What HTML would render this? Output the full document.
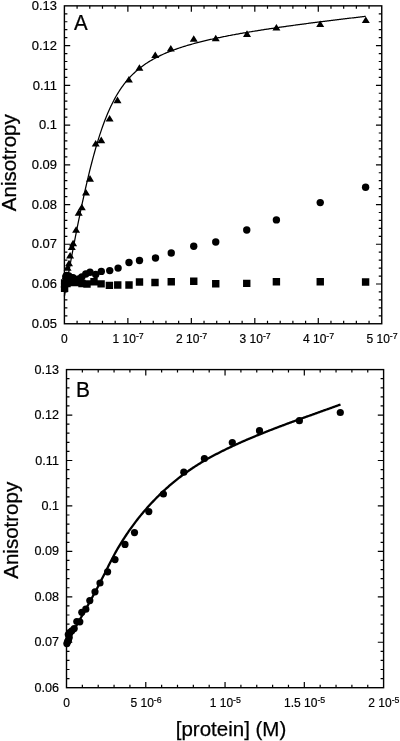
<!DOCTYPE html>
<html><head><meta charset="utf-8"><title>Anisotropy binding curves</title>
<style>
html,body{margin:0;padding:0;background:#fff;}
body{width:400px;height:741px;overflow:hidden;}
svg{display:block;}
</style></head>
<body>
<svg width="400" height="741" viewBox="0 0 400 741">
<rect width="400" height="741" fill="#fff"/>
<rect x="64.40" y="5.85" width="317.35" height="317.90" fill="none" stroke="#000" stroke-width="1.4"/>
<path d="M64.40 315.80h3.0M381.75 315.80h-3.0M64.40 307.85h3.0M381.75 307.85h-3.0M64.40 299.91h3.0M381.75 299.91h-3.0M64.40 291.96h3.0M381.75 291.96h-3.0M64.40 284.01h5.8M381.75 284.01h-5.8M64.40 276.06h3.0M381.75 276.06h-3.0M64.40 268.12h3.0M381.75 268.12h-3.0M64.40 260.17h3.0M381.75 260.17h-3.0M64.40 252.22h3.0M381.75 252.22h-3.0M64.40 244.27h5.8M381.75 244.27h-5.8M64.40 236.33h3.0M381.75 236.33h-3.0M64.40 228.38h3.0M381.75 228.38h-3.0M64.40 220.43h3.0M381.75 220.43h-3.0M64.40 212.49h3.0M381.75 212.49h-3.0M64.40 204.54h5.8M381.75 204.54h-5.8M64.40 196.59h3.0M381.75 196.59h-3.0M64.40 188.64h3.0M381.75 188.64h-3.0M64.40 180.69h3.0M381.75 180.69h-3.0M64.40 172.75h3.0M381.75 172.75h-3.0M64.40 164.80h5.8M381.75 164.80h-5.8M64.40 156.85h3.0M381.75 156.85h-3.0M64.40 148.91h3.0M381.75 148.91h-3.0M64.40 140.96h3.0M381.75 140.96h-3.0M64.40 133.01h3.0M381.75 133.01h-3.0M64.40 125.06h5.8M381.75 125.06h-5.8M64.40 117.12h3.0M381.75 117.12h-3.0M64.40 109.17h3.0M381.75 109.17h-3.0M64.40 101.22h3.0M381.75 101.22h-3.0M64.40 93.27h3.0M381.75 93.27h-3.0M64.40 85.33h5.8M381.75 85.33h-5.8M64.40 77.38h3.0M381.75 77.38h-3.0M64.40 69.43h3.0M381.75 69.43h-3.0M64.40 61.48h3.0M381.75 61.48h-3.0M64.40 53.54h3.0M381.75 53.54h-3.0M64.40 45.59h5.8M381.75 45.59h-5.8M64.40 37.64h3.0M381.75 37.64h-3.0M64.40 29.69h3.0M381.75 29.69h-3.0M64.40 21.75h3.0M381.75 21.75h-3.0M64.40 13.80h3.0M381.75 13.80h-3.0M77.09 5.85v3.0M77.09 323.75v-3.0M89.79 5.85v3.0M89.79 323.75v-3.0M102.48 5.85v3.0M102.48 323.75v-3.0M115.18 5.85v3.0M115.18 323.75v-3.0M127.87 5.85v5.8M127.87 323.75v-5.8M140.56 5.85v3.0M140.56 323.75v-3.0M153.26 5.85v3.0M153.26 323.75v-3.0M165.95 5.85v3.0M165.95 323.75v-3.0M178.65 5.85v3.0M178.65 323.75v-3.0M191.34 5.85v5.8M191.34 323.75v-5.8M204.03 5.85v3.0M204.03 323.75v-3.0M216.73 5.85v3.0M216.73 323.75v-3.0M229.42 5.85v3.0M229.42 323.75v-3.0M242.12 5.85v3.0M242.12 323.75v-3.0M254.81 5.85v5.8M254.81 323.75v-5.8M267.50 5.85v3.0M267.50 323.75v-3.0M280.20 5.85v3.0M280.20 323.75v-3.0M292.89 5.85v3.0M292.89 323.75v-3.0M305.59 5.85v3.0M305.59 323.75v-3.0M318.28 5.85v5.8M318.28 323.75v-5.8M330.97 5.85v3.0M330.97 323.75v-3.0M343.67 5.85v3.0M343.67 323.75v-3.0M356.36 5.85v3.0M356.36 323.75v-3.0M369.06 5.85v3.0M369.06 323.75v-3.0" stroke="#000" stroke-width="1.2" fill="none"/>
<rect x="66.50" y="369.60" width="317.10" height="318.10" fill="none" stroke="#000" stroke-width="1.4"/>
<path d="M66.50 678.61h3.0M383.60 678.61h-3.0M66.50 669.52h3.0M383.60 669.52h-3.0M66.50 660.43h3.0M383.60 660.43h-3.0M66.50 651.35h3.0M383.60 651.35h-3.0M66.50 642.26h5.8M383.60 642.26h-5.8M66.50 633.17h3.0M383.60 633.17h-3.0M66.50 624.08h3.0M383.60 624.08h-3.0M66.50 614.99h3.0M383.60 614.99h-3.0M66.50 605.90h3.0M383.60 605.90h-3.0M66.50 596.81h5.8M383.60 596.81h-5.8M66.50 587.73h3.0M383.60 587.73h-3.0M66.50 578.64h3.0M383.60 578.64h-3.0M66.50 569.55h3.0M383.60 569.55h-3.0M66.50 560.46h3.0M383.60 560.46h-3.0M66.50 551.37h5.8M383.60 551.37h-5.8M66.50 542.28h3.0M383.60 542.28h-3.0M66.50 533.19h3.0M383.60 533.19h-3.0M66.50 524.11h3.0M383.60 524.11h-3.0M66.50 515.02h3.0M383.60 515.02h-3.0M66.50 505.93h5.8M383.60 505.93h-5.8M66.50 496.84h3.0M383.60 496.84h-3.0M66.50 487.75h3.0M383.60 487.75h-3.0M66.50 478.66h3.0M383.60 478.66h-3.0M66.50 469.57h3.0M383.60 469.57h-3.0M66.50 460.49h5.8M383.60 460.49h-5.8M66.50 451.40h3.0M383.60 451.40h-3.0M66.50 442.31h3.0M383.60 442.31h-3.0M66.50 433.22h3.0M383.60 433.22h-3.0M66.50 424.13h3.0M383.60 424.13h-3.0M66.50 415.04h5.8M383.60 415.04h-5.8M66.50 405.95h3.0M383.60 405.95h-3.0M66.50 396.87h3.0M383.60 396.87h-3.0M66.50 387.78h3.0M383.60 387.78h-3.0M66.50 378.69h3.0M383.60 378.69h-3.0M82.36 369.60v3.0M82.36 687.70v-3.0M98.21 369.60v3.0M98.21 687.70v-3.0M114.06 369.60v3.0M114.06 687.70v-3.0M129.92 369.60v3.0M129.92 687.70v-3.0M145.78 369.60v5.8M145.78 687.70v-5.8M161.63 369.60v3.0M161.63 687.70v-3.0M177.49 369.60v3.0M177.49 687.70v-3.0M193.34 369.60v3.0M193.34 687.70v-3.0M209.19 369.60v3.0M209.19 687.70v-3.0M225.05 369.60v5.8M225.05 687.70v-5.8M240.91 369.60v3.0M240.91 687.70v-3.0M256.76 369.60v3.0M256.76 687.70v-3.0M272.62 369.60v3.0M272.62 687.70v-3.0M288.47 369.60v3.0M288.47 687.70v-3.0M304.32 369.60v5.8M304.32 687.70v-5.8M320.18 369.60v3.0M320.18 687.70v-3.0M336.04 369.60v3.0M336.04 687.70v-3.0M351.89 369.60v3.0M351.89 687.70v-3.0M367.75 369.60v3.0M367.75 687.70v-3.0" stroke="#000" stroke-width="1.2" fill="none"/>
<g font-family="'Liberation Sans', Arial, Helvetica, sans-serif" font-size="12" fill="#000" stroke="#000" stroke-width="0.18">
<text transform="translate(57.00 327.95) scale(1.08 1)" text-anchor="end">0.05</text>
<text transform="translate(57.00 288.21) scale(1.08 1)" text-anchor="end">0.06</text>
<text transform="translate(57.00 248.47) scale(1.08 1)" text-anchor="end">0.07</text>
<text transform="translate(57.00 208.74) scale(1.08 1)" text-anchor="end">0.08</text>
<text transform="translate(57.00 169.00) scale(1.08 1)" text-anchor="end">0.09</text>
<text transform="translate(57.00 129.26) scale(1.08 1)" text-anchor="end">0.1</text>
<text transform="translate(57.00 89.53) scale(1.08 1)" text-anchor="end">0.11</text>
<text transform="translate(57.00 49.79) scale(1.08 1)" text-anchor="end">0.12</text>
<text transform="translate(57.00 10.05) scale(1.08 1)" text-anchor="end">0.13</text>
<text transform="translate(58.90 691.80) scale(1.05 1)" text-anchor="end">0.06</text>
<text transform="translate(58.90 646.36) scale(1.05 1)" text-anchor="end">0.07</text>
<text transform="translate(58.90 600.91) scale(1.05 1)" text-anchor="end">0.08</text>
<text transform="translate(58.90 555.47) scale(1.05 1)" text-anchor="end">0.09</text>
<text transform="translate(58.90 510.03) scale(1.05 1)" text-anchor="end">0.1</text>
<text transform="translate(58.90 464.59) scale(1.05 1)" text-anchor="end">0.11</text>
<text transform="translate(58.90 419.14) scale(1.05 1)" text-anchor="end">0.12</text>
<text transform="translate(58.90 373.70) scale(1.05 1)" text-anchor="end">0.13</text>
<text transform="translate(64.40 343.20) scale(1.0 1)" text-anchor="middle">0</text>
<text transform="translate(128.17 343.20) scale(1.0 1)" text-anchor="middle">1 10<tspan font-size="8.8" dy="-4.0">-7</tspan></text>
<text transform="translate(191.64 343.20) scale(1.0 1)" text-anchor="middle">2 10<tspan font-size="8.8" dy="-4.0">-7</tspan></text>
<text transform="translate(255.11 343.20) scale(1.0 1)" text-anchor="middle">3 10<tspan font-size="8.8" dy="-4.0">-7</tspan></text>
<text transform="translate(318.58 343.20) scale(1.0 1)" text-anchor="middle">4 10<tspan font-size="8.8" dy="-4.0">-7</tspan></text>
<text transform="translate(382.05 343.20) scale(1.0 1)" text-anchor="middle">5 10<tspan font-size="8.8" dy="-4.0">-7</tspan></text>
<text transform="translate(66.50 706.60) scale(1.0 1)" text-anchor="middle">0</text>
<text transform="translate(146.08 706.60) scale(1.0 1)" text-anchor="middle">5 10<tspan font-size="8.8" dy="-4.0">-6</tspan></text>
<text transform="translate(225.35 706.60) scale(1.0 1)" text-anchor="middle">1 10<tspan font-size="8.8" dy="-4.0">-5</tspan></text>
<text transform="translate(304.62 706.60) scale(1.0 1)" text-anchor="middle">1.5 10<tspan font-size="8.8" dy="-4.0">-5</tspan></text>
<text transform="translate(383.90 706.60) scale(1.0 1)" text-anchor="middle">2 10<tspan font-size="8.8" dy="-4.0">-5</tspan></text>
</g>
<g font-family="'Liberation Sans', Arial, Helvetica, sans-serif" font-size="20.5" fill="#000" stroke="#000" stroke-width="0.25">
<text transform="translate(74.0 29.8) scale(0.94 1)" font-size="21.8">A</text>
<text transform="translate(76.0 397.0) scale(0.97 1)" font-size="21.6">B</text>
<text transform="translate(16.2 162.75) rotate(-90)" text-anchor="middle">Anisotropy</text>
<text transform="translate(18.1 530.3) rotate(-90)" text-anchor="middle">Anisotropy</text>
<text transform="translate(231 736) scale(1.0 1)" text-anchor="middle" font-size="20.5">[protein] (M)</text>
</g>
<path d="M64.40 296.29 L65.41 290.62 L66.42 284.99 L67.42 279.40 L68.43 273.86 L69.44 268.36 L70.45 262.91 L71.45 257.50 L72.46 252.15 L73.47 246.85 L74.48 241.60 L75.48 236.41 L76.49 231.28 L77.50 226.22 L78.51 221.22 L79.52 216.28 L80.52 211.42 L81.53 206.63 L82.54 201.91 L83.55 197.27 L84.55 192.71 L85.56 188.24 L86.57 183.84 L87.58 179.54 L88.58 175.32 L89.59 171.19 L90.60 167.16 L91.61 163.22 L92.62 159.37 L93.62 155.62 L94.63 151.97 L95.64 148.42 L96.65 144.96 L97.65 141.60 L98.66 138.35 L99.67 135.18 L100.68 132.12 L101.68 129.15 L102.69 126.28 L103.70 123.50 L104.71 120.82 L105.72 118.23 L106.72 115.72 L107.73 113.30 L108.74 110.97 L109.75 108.71 L110.75 106.54 L111.76 104.45 L112.77 102.43 L113.78 100.48 L114.78 98.61 L115.79 96.80 L116.80 95.05 L117.81 93.37 L118.82 91.75 L119.82 90.19 L120.83 88.68 L121.84 87.23 L122.85 85.83 L123.85 84.47 L124.86 83.16 L125.87 81.90 L126.88 80.68 L127.88 79.50 L128.89 78.36 L129.90 77.26 L130.91 76.19 L131.92 75.16 L132.92 74.16 L133.93 73.20 L134.94 72.26 L135.95 71.35 L136.95 70.47 L137.96 69.61 L138.97 68.78 L139.98 67.98 L140.98 67.19 L141.99 66.43 L143.00 65.69 L144.01 64.97 L145.02 64.27 L146.02 63.59 L147.03 62.93 L148.04 62.28 L149.05 61.65 L150.05 61.04 L151.06 60.44 L152.07 59.86 L153.08 59.29 L154.08 58.73 L155.09 58.19 L156.10 57.65 L157.11 57.14 L158.12 56.63 L159.12 56.13 L160.13 55.65 L161.14 55.17 L162.15 54.70 L163.15 54.25 L164.16 53.80 L165.17 53.36 L166.18 52.93 L167.18 52.51 L168.19 52.10 L169.20 51.69 L170.21 51.30 L171.22 50.90 L172.22 50.52 L173.23 50.14 L174.24 49.77 L175.25 49.41 L176.25 49.05 L177.26 48.70 L178.27 48.35 L179.28 48.01 L180.28 47.68 L181.29 47.35 L182.30 47.02 L183.31 46.70 L184.32 46.39 L185.32 46.07 L186.33 45.77 L187.34 45.47 L188.35 45.17 L189.35 44.87 L190.36 44.59 L191.37 44.30 L192.38 44.02 L193.38 43.74 L194.39 43.46 L195.40 43.19 L196.41 42.92 L197.42 42.66 L198.42 42.40 L199.43 42.14 L200.44 41.88 L201.45 41.63 L202.45 41.38 L203.46 41.14 L204.47 40.89 L205.48 40.65 L206.48 40.41 L207.49 40.18 L208.50 39.94 L209.51 39.71 L210.52 39.48 L211.52 39.25 L212.53 39.03 L213.54 38.81 L214.55 38.59 L215.55 38.37 L216.56 38.15 L217.57 37.94 L218.58 37.73 L219.58 37.52 L220.59 37.31 L221.60 37.10 L222.61 36.90 L223.62 36.69 L224.62 36.49 L225.63 36.29 L226.64 36.09 L227.65 35.90 L228.65 35.70 L229.66 35.51 L230.67 35.32 L231.68 35.13 L232.68 34.94 L233.69 34.75 L234.70 34.56 L235.71 34.38 L236.72 34.19 L237.72 34.01 L238.73 33.83 L239.74 33.65 L240.75 33.47 L241.75 33.29 L242.76 33.12 L243.77 32.94 L244.78 32.77 L245.78 32.60 L246.79 32.42 L247.80 32.25 L248.81 32.08 L249.82 31.91 L250.82 31.75 L251.83 31.58 L252.84 31.41 L253.85 31.25 L254.85 31.08 L255.86 30.92 L256.87 30.76 L257.88 30.60 L258.88 30.44 L259.89 30.28 L260.90 30.12 L261.91 29.96 L262.92 29.80 L263.92 29.64 L264.93 29.49 L265.94 29.33 L266.95 29.18 L267.95 29.03 L268.96 28.87 L269.97 28.72 L270.98 28.57 L271.98 28.42 L272.99 28.27 L274.00 28.12 L275.01 27.97 L276.02 27.82 L277.02 27.67 L278.03 27.53 L279.04 27.38 L280.05 27.24 L281.05 27.09 L282.06 26.95 L283.07 26.80 L284.08 26.66 L285.08 26.52 L286.09 26.37 L287.10 26.23 L288.11 26.09 L289.12 25.95 L290.12 25.81 L291.13 25.67 L292.14 25.53 L293.15 25.39 L294.15 25.25 L295.16 25.12 L296.17 24.98 L297.18 24.84 L298.18 24.71 L299.19 24.57 L300.20 24.44 L301.21 24.30 L302.22 24.17 L303.22 24.03 L304.23 23.90 L305.24 23.76 L306.25 23.63 L307.25 23.50 L308.26 23.37 L309.27 23.24 L310.28 23.10 L311.28 22.97 L312.29 22.84 L313.30 22.71 L314.31 22.58 L315.32 22.45 L316.32 22.32 L317.33 22.19 L318.34 22.07 L319.35 21.94 L320.35 21.81 L321.36 21.68 L322.37 21.56 L323.38 21.43 L324.38 21.30 L325.39 21.18 L326.40 21.05 L327.41 20.93 L328.42 20.80 L329.42 20.68 L330.43 20.55 L331.44 20.43 L332.45 20.30 L333.45 20.18 L334.46 20.05 L335.47 19.93 L336.48 19.81 L337.48 19.69 L338.49 19.56 L339.50 19.44 L340.51 19.32 L341.52 19.20 L342.52 19.08 L343.53 18.96 L344.54 18.83 L345.55 18.71 L346.55 18.59 L347.56 18.47 L348.57 18.35 L349.58 18.23 L350.58 18.11 L351.59 18.00 L352.60 17.88 L353.61 17.76 L354.62 17.64 L355.62 17.52 L356.63 17.40 L357.64 17.28 L358.65 17.17 L359.65 17.05 L360.66 16.93 L361.67 16.81 L362.68 16.70 L363.68 16.58 L364.69 16.46 L365.70 16.35" fill="none" stroke="#000" stroke-width="1.25"/>
<path d="M66.50 645.62 L67.42 643.57 L68.33 641.57 L69.25 639.62 L70.17 637.72 L71.08 635.86 L72.00 634.04 L72.91 632.25 L73.83 630.49 L74.75 628.77 L75.66 627.07 L76.58 625.39 L77.50 623.74 L78.41 622.09 L79.33 620.46 L80.25 618.84 L81.16 617.23 L82.08 615.62 L82.99 614.01 L83.91 612.39 L84.83 610.77 L85.74 609.14 L86.66 607.50 L87.58 605.85 L88.49 604.20 L89.41 602.53 L90.33 600.86 L91.24 599.18 L92.16 597.50 L93.08 595.80 L93.99 594.09 L94.91 592.38 L95.82 590.66 L96.74 588.92 L97.66 587.18 L98.57 585.43 L99.49 583.67 L100.41 581.90 L101.32 580.12 L102.24 578.33 L103.16 576.53 L104.07 574.73 L104.99 572.91 L105.90 571.08 L106.82 569.26 L107.74 567.43 L108.65 565.61 L109.57 563.79 L110.49 561.99 L111.40 560.21 L112.32 558.44 L113.24 556.69 L114.15 554.97 L115.07 553.28 L115.98 551.62 L116.90 550.00 L117.82 548.41 L118.73 546.86 L119.65 545.33 L120.57 543.83 L121.48 542.35 L122.40 540.89 L123.32 539.45 L124.23 538.03 L125.15 536.63 L126.07 535.25 L126.98 533.89 L127.90 532.54 L128.81 531.21 L129.73 529.90 L130.65 528.60 L131.56 527.32 L132.48 526.06 L133.40 524.82 L134.31 523.59 L135.23 522.37 L136.15 521.17 L137.06 519.99 L137.98 518.82 L138.89 517.66 L139.81 516.52 L140.73 515.39 L141.64 514.28 L142.56 513.17 L143.48 512.09 L144.39 511.01 L145.31 509.95 L146.23 508.89 L147.14 507.85 L148.06 506.83 L148.97 505.81 L149.89 504.80 L150.81 503.81 L151.72 502.82 L152.64 501.85 L153.56 500.88 L154.47 499.93 L155.39 498.98 L156.31 498.05 L157.22 497.13 L158.14 496.21 L159.06 495.31 L159.97 494.41 L160.89 493.53 L161.80 492.65 L162.72 491.78 L163.64 490.93 L164.55 490.08 L165.47 489.24 L166.39 488.41 L167.30 487.59 L168.22 486.77 L169.14 485.97 L170.05 485.18 L170.97 484.39 L171.88 483.61 L172.80 482.84 L173.72 482.08 L174.63 481.33 L175.55 480.58 L176.47 479.84 L177.38 479.11 L178.30 478.39 L179.22 477.68 L180.13 476.97 L181.05 476.27 L181.96 475.58 L182.88 474.90 L183.80 474.22 L184.71 473.55 L185.63 472.89 L186.55 472.23 L187.46 471.58 L188.38 470.94 L189.30 470.31 L190.21 469.68 L191.13 469.05 L192.05 468.44 L192.96 467.83 L193.88 467.22 L194.79 466.63 L195.71 466.04 L196.63 465.45 L197.54 464.87 L198.46 464.30 L199.38 463.73 L200.29 463.16 L201.21 462.61 L202.13 462.05 L203.04 461.51 L203.96 460.97 L204.87 460.43 L205.79 459.90 L206.71 459.37 L207.62 458.85 L208.54 458.33 L209.46 457.82 L210.37 457.31 L211.29 456.81 L212.21 456.31 L213.12 455.81 L214.04 455.32 L214.95 454.84 L215.87 454.35 L216.79 453.87 L217.70 453.40 L218.62 452.93 L219.54 452.46 L220.45 452.00 L221.37 451.53 L222.29 451.08 L223.20 450.62 L224.12 450.17 L225.04 449.72 L225.95 449.28 L226.87 448.83 L227.78 448.39 L228.70 447.96 L229.62 447.52 L230.53 447.09 L231.45 446.66 L232.37 446.23 L233.28 445.81 L234.20 445.38 L235.12 444.96 L236.03 444.54 L236.95 444.13 L237.86 443.71 L238.78 443.30 L239.70 442.89 L240.61 442.48 L241.53 442.07 L242.45 441.67 L243.36 441.27 L244.28 440.86 L245.20 440.47 L246.11 440.07 L247.03 439.67 L247.94 439.28 L248.86 438.89 L249.78 438.50 L250.69 438.11 L251.61 437.72 L252.53 437.34 L253.44 436.95 L254.36 436.57 L255.28 436.19 L256.19 435.81 L257.11 435.43 L258.03 435.06 L258.94 434.68 L259.86 434.31 L260.77 433.94 L261.69 433.57 L262.61 433.20 L263.52 432.84 L264.44 432.47 L265.36 432.11 L266.27 431.74 L267.19 431.38 L268.11 431.02 L269.02 430.66 L269.94 430.30 L270.85 429.95 L271.77 429.59 L272.69 429.24 L273.60 428.88 L274.52 428.53 L275.44 428.18 L276.35 427.83 L277.27 427.48 L278.19 427.13 L279.10 426.78 L280.02 426.44 L280.93 426.09 L281.85 425.75 L282.77 425.40 L283.68 425.06 L284.60 424.72 L285.52 424.38 L286.43 424.04 L287.35 423.70 L288.27 423.36 L289.18 423.02 L290.10 422.68 L291.02 422.35 L291.93 422.01 L292.85 421.68 L293.76 421.34 L294.68 421.01 L295.60 420.67 L296.51 420.34 L297.43 420.01 L298.35 419.67 L299.26 419.34 L300.18 419.01 L301.10 418.68 L302.01 418.35 L302.93 418.02 L303.84 417.69 L304.76 417.36 L305.68 417.03 L306.59 416.70 L307.51 416.37 L308.43 416.04 L309.34 415.71 L310.26 415.38 L311.18 415.05 L312.09 414.73 L313.01 414.40 L313.92 414.07 L314.84 413.74 L315.76 413.41 L316.67 413.08 L317.59 412.76 L318.51 412.43 L319.42 412.10 L320.34 411.77 L321.26 411.44 L322.17 411.11 L323.09 410.78 L324.01 410.45 L324.92 410.12 L325.84 409.79 L326.75 409.46 L327.67 409.13 L328.59 408.80 L329.50 408.47 L330.42 408.14 L331.34 407.81 L332.25 407.48 L333.17 407.14 L334.09 406.81 L335.00 406.47 L335.92 406.14 L336.83 405.81 L337.75 405.47 L338.67 405.13 L339.58 404.80 L340.50 404.46" fill="none" stroke="#000" stroke-width="2.3"/>
<g fill="#000">
<path d="M365.80 16.40L369.80 23.00L361.80 23.00ZM320.20 20.45L324.20 27.05L316.20 27.05ZM276.40 23.90L280.40 30.50L272.40 30.50ZM247.00 30.30L251.00 36.90L243.00 36.90ZM215.75 34.70L219.75 41.30L211.75 41.30ZM193.75 35.20L197.75 41.80L189.75 41.80ZM170.80 44.90L174.80 51.50L166.80 51.50ZM155.25 51.50L159.25 58.10L151.25 58.10ZM139.40 64.20L143.40 70.80L135.40 70.80ZM128.90 76.00L132.90 82.60L124.90 82.60ZM117.50 96.60L121.50 103.20L113.50 103.20ZM109.60 114.90L113.60 121.50L105.60 121.50ZM101.25 136.60L105.25 143.20L97.25 143.20ZM95.70 139.90L99.70 146.50L91.70 146.50ZM90.00 175.10L94.00 181.70L86.00 181.70ZM86.00 188.90L90.00 195.50L82.00 195.50ZM81.80 203.70L85.80 210.30L77.80 210.30ZM78.70 209.10L82.70 215.70L74.70 215.70ZM76.10 226.20L80.10 232.80L72.10 232.80ZM73.10 239.70L77.10 246.30L69.10 246.30ZM71.80 243.40L75.80 250.00L67.80 250.00ZM70.10 251.90L74.10 258.50L66.10 258.50ZM69.00 259.70L73.00 266.30L65.00 266.30ZM67.60 264.20L71.60 270.80L63.60 270.80ZM65.60 272.70L69.60 279.30L61.60 279.30ZM64.80 276.70L68.80 283.30L60.80 283.30ZM64.40 280.70L68.40 287.30L60.40 287.30Z"/>
<circle cx="365.60" cy="187.25" r="3.7"/><circle cx="320.25" cy="202.60" r="3.7"/><circle cx="276.40" cy="219.90" r="3.7"/><circle cx="246.75" cy="230.00" r="3.7"/><circle cx="215.75" cy="242.00" r="3.7"/><circle cx="193.75" cy="246.25" r="3.7"/><circle cx="171.25" cy="253.00" r="3.7"/><circle cx="155.50" cy="258.00" r="3.7"/><circle cx="139.50" cy="260.50" r="3.7"/><circle cx="129.00" cy="262.50" r="3.7"/><circle cx="118.10" cy="268.10" r="3.7"/><circle cx="109.75" cy="270.60" r="3.7"/><circle cx="101.30" cy="271.40" r="3.7"/><circle cx="95.70" cy="274.40" r="3.7"/><circle cx="90.00" cy="272.20" r="3.7"/><circle cx="85.80" cy="274.00" r="3.7"/><circle cx="81.80" cy="277.00" r="3.7"/><circle cx="78.80" cy="279.00" r="3.7"/><circle cx="76.00" cy="279.50" r="3.7"/><circle cx="73.00" cy="277.80" r="3.7"/><circle cx="70.50" cy="277.50" r="3.7"/><circle cx="68.80" cy="276.00" r="3.7"/><circle cx="66.60" cy="275.50" r="3.7"/><circle cx="65.80" cy="276.60" r="3.7"/>
<path d="M361.90 278.30h7.4v7.4h-7.4ZM316.55 278.05h7.4v7.4h-7.4ZM272.70 278.05h7.4v7.4h-7.4ZM243.05 279.70h7.4v7.4h-7.4ZM212.05 280.05h7.4v7.4h-7.4ZM190.05 277.55h7.4v7.4h-7.4ZM167.55 278.05h7.4v7.4h-7.4ZM151.30 278.80h7.4v7.4h-7.4ZM135.80 278.30h7.4v7.4h-7.4ZM125.30 281.30h7.4v7.4h-7.4ZM114.05 281.30h7.4v7.4h-7.4ZM105.70 281.70h7.4v7.4h-7.4ZM97.40 280.20h7.4v7.4h-7.4ZM90.30 278.10h7.4v7.4h-7.4ZM83.30 280.30h7.4v7.4h-7.4ZM78.30 279.80h7.4v7.4h-7.4ZM75.30 278.90h7.4v7.4h-7.4ZM72.30 278.90h7.4v7.4h-7.4ZM69.30 278.90h7.4v7.4h-7.4ZM66.30 278.90h7.4v7.4h-7.4ZM63.30 279.80h7.4v7.4h-7.4ZM60.90 279.30h7.4v7.4h-7.4ZM60.90 284.60h7.4v7.4h-7.4Z"/>
<circle cx="340.30" cy="412.50" r="3.6"/><circle cx="299.40" cy="420.70" r="3.6"/><circle cx="259.50" cy="430.70" r="3.6"/><circle cx="232.30" cy="442.50" r="3.6"/><circle cx="204.40" cy="458.50" r="3.6"/><circle cx="183.80" cy="472.20" r="3.6"/><circle cx="163.40" cy="494.00" r="3.6"/><circle cx="148.80" cy="511.60" r="3.6"/><circle cx="134.50" cy="532.60" r="3.6"/><circle cx="125.00" cy="544.40" r="3.6"/><circle cx="115.00" cy="559.60" r="3.6"/><circle cx="107.60" cy="571.80" r="3.6"/><circle cx="100.00" cy="583.00" r="3.6"/><circle cx="95.00" cy="591.80" r="3.6"/><circle cx="89.80" cy="600.60" r="3.6"/><circle cx="85.80" cy="609.20" r="3.6"/><circle cx="81.80" cy="612.30" r="3.6"/><circle cx="79.80" cy="621.80" r="3.6"/><circle cx="76.80" cy="621.50" r="3.6"/><circle cx="74.20" cy="628.60" r="3.6"/><circle cx="71.80" cy="630.80" r="3.6"/><circle cx="69.60" cy="632.60" r="3.6"/><circle cx="68.30" cy="634.60" r="3.6"/><circle cx="69.20" cy="637.40" r="3.6"/><circle cx="68.40" cy="640.40" r="3.6"/><circle cx="67.60" cy="641.60" r="3.6"/><circle cx="66.90" cy="643.60" r="3.6"/>
</g>
</svg>
</body></html>
